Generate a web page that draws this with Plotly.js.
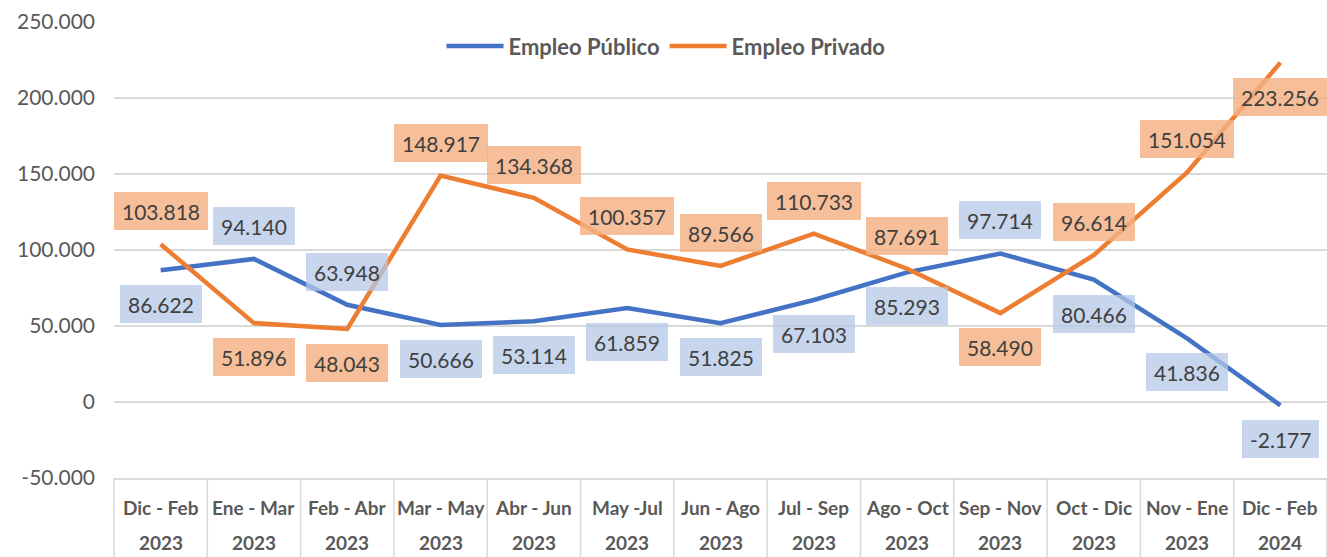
<!DOCTYPE html>
<html><head><meta charset="utf-8">
<script src="https://cdn.plot.ly/plotly-3.0.1.min.js"></script>
<style>html,body{margin:0;padding:0;background:#fff}#chart{width:1327px;height:557px}</style>
</head><body><div id="chart"></div>
<script>
const periods = ["Dic - Feb","Ene - Mar","Feb - Abr","Mar - May","Abr - Jun","May -Jul","Jun - Ago","Jul - Sep","Ago - Oct","Sep - Nov","Oct - Dic","Nov - Ene","Dic - Feb"];
const years = ["2023","2023","2023","2023","2023","2023","2023","2023","2023","2023","2023","2023","2024"];
const publico = [86622, 94140, 63948, 50666, 53114, 61859, 51825, 67103, 85293, 97714, 80466, 41836, -2177];
const privado = [103818, 51896, 48043, 148917, 134368, 100357, 89566, 110733, 87691, 58490, 96614, 151054, 223256];
const yTickVals = [-50000, 0, 50000, 100000, 150000, 200000, 250000];
const yTickText = ["-50.000", "0", "50.000", "100.000", "150.000", "200.000", "250.000"];

// data label placement: "a" = above the point, "b" = below
const pubPlace = ["b","a","a","b","b","b","b","b","b","a","b","b","b"];
const privPlace = ["a","b","b","a","a","a","a","a","a","b","a","a","b"];

const cats = periods.map((p, i) => p + " " + years[i]);
function fmt(v) {
  const s = Math.abs(v).toString().replace(/\B(?=(\d{3})+(?!\d))/g, ".");
  return (v < 0 ? "-" : "") + s;
}
const FONT = "Lato, 'Liberation Sans', sans-serif";
const annotations = [];
function addLabels(vals, place, bg) {
  vals.forEach((v, i) => annotations.push({
    x: cats[i], y: v, xref: "x", yref: "y", text: fmt(v), showarrow: false,
    yshift: place[i] === "a" ? 33 : -34, bgcolor: bg, height: 22, borderpad: 8, borderwidth: 0,
    font: {family: FONT, size: 21, color: "#404040"}
  }));
}
addLabels(publico, pubPlace, "rgba(180,199,231,0.75)");
addLabels(privado, privPlace, "rgba(244,177,131,0.82)");
cats.forEach((c, i) => {
  annotations.push({x: c, xref: "x", y: 0, yref: "paper", yanchor: "middle", yshift: -29,
    text: "<b>" + periods[i] + "</b>", showarrow: false, font: {family: FONT, size: 19, color: "#595959"}});
  annotations.push({x: c, xref: "x", y: 0, yref: "paper", yanchor: "middle", yshift: -64,
    text: "<b>" + years[i] + "</b>", showarrow: false, font: {family: FONT, size: 19, color: "#595959"}});
});
const shapes = [];
for (let k = 0; k <= cats.length; k++) {
  shapes.push({type: "line", xref: "paper", yref: "paper", x0: k / cats.length, x1: k / cats.length,
    y0: 0, y1: -0.3, line: {color: "#D9D9D9", width: 1.5}});
}

const traces = [
  {x: cats, y: publico, type: "scatter", mode: "lines", name: "Empleo Público",
   line: {color: "#4472C4", width: 4.5}, hoverinfo: "skip"},
  {x: cats, y: privado, type: "scatter", mode: "lines", name: "Empleo Privado",
   line: {color: "#ED7D31", width: 4.5}, hoverinfo: "skip"}
];
const layout = {
  width: 1327, height: 557,
  margin: {l: 114, r: 0, t: 22, b: 79},
  paper_bgcolor: "#fff", plot_bgcolor: "#fff",
  font: {family: FONT, color: "#595959"},
  showlegend: true,
  legend: {orientation: "h", x: 0.27, xanchor: "left", y: 0.947, yanchor: "middle",
    font: {family: FONT, size: 22, color: "#595959", weight: "bold"}, itemwidth: 57, bgcolor: "rgba(0,0,0,0)"},
  xaxis: {type: "category", range: [-0.5, cats.length - 0.5], showticklabels: false, showgrid: false,
    zeroline: false, showline: true, linecolor: "#D9D9D9", linewidth: 1.5, ticks: "", fixedrange: true},
  yaxis: {range: [-50000, 250000], tickvals: yTickVals, ticktext: yTickText, showgrid: true,
    gridcolor: "#D9D9D9", gridwidth: 1.5, zeroline: false, showline: false, ticks: "",
    ticklabelstandoff: 18, tickfont: {family: FONT, size: 21, color: "#595959"}, fixedrange: true},
  annotations: annotations, shapes: shapes
};
Plotly.newPlot("chart", traces, layout, {displayModeBar: false, staticPlot: true});
</script></body></html>
